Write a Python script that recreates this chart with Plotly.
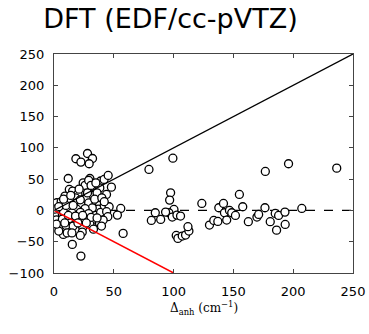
import plotly.graph_objects as go

x_vals = [
    # upper outliers
    28, 32.2, 18.3, 22.5, 29.4, 11.9, 79.4,
    # upper cluster
    30, 24.4, 39, 41.9, 45.3, 48, 12.8, 15.6, 9.2, 24, 32.8, 38.3, 43.9, 30, 27, 33, 36, 20, 26, 29, 18,
    # middle cluster
    2.2, 6, 13.3, 19, 23, 29, 35, 38, 37, 32, 26, 19, 12, 6, 2, 1, 4, 8, 15, 22, 29, 35, 39, 42, 46.1,
    55.8, 53, 44, 45, 0.5, 0.5,
    # lower cluster
    2, 7, 13, 19, 26, 33, 38, 41.1, 39.7, 5, 10, 16, 24, 30, 7.8, 11, 15, 23.6, 22, 4, 2, 57.8, 15.3,
    22.5, 33,
    # extra density
    10, 16, 22, 28, 34, 40, 12, 18, 24, 31, 8, 4, 27, 20, 9, 36, 42, 14, 21, 31, 35,
    # right side
    99.4, 97.5, 96.7, 100.3, 96.1, 98.9, 102.8, 105.8, 93.3, 84.7, 81.4, 89.2, 102.2, 103.6, 107.2,
    110, 112.8, 112, 123.6, 130, 133.6, 137, 137.8, 141.7, 142.5, 144.4, 146.7, 148.6, 151.7, 155,
    157.8, 162.5, 169.7, 171.1, 176.7, 176.4, 180.8, 185, 187.8, 186.1, 193.1, 193.3, 196.1, 207.2,
    236.4,
]
y_vals = [
    91, 83, 82.6, 77.2, 74.6, 51, 65.5,
    51, 44, 47, 49.5, 55.9, 37.2, 33.5, 31, 23, 30, 33, 36, 25.5, 22, 19, 24, 28, 26, 40, 48, 20,
    12.3, 14, 14, 12, 9, 12, 14, 8, 2, 4, 3, 2, 4, 2, 2, -4, -3, -3, -4, -3, -5, -8, -3, 8, 5.9,
    3.2, -7.5, -2, -10, -8, 2,
    -15, -14, -13, -14, -15, -14, -20, -15.4, -25, -25, -24, -25, -27, -22, -38.3, -36, -36, -34.7,
    -40, -33, -22, -36.7, -54.3, -73, -30,
    8, 8, 17, 28, 18, 20, -8, -9, -8, -11, 18, 6, -20, -20, -20, -12, 14, 24, 34, 40, 44,
    83.5, 28.2, 16.5, 1.6, -3.7, -10.6, -7.5, -9, -2.7, -3.7, -16, -14.4, -40, -44.7, -41,
    -39.4, -33, -26, 11.2, -23.4, -16, -17.6, 4.3, 11.2, -3.7, -15.4, 0, -3.7, -8, 25.5,
    5.9, -18, -10.6, -6.4, 62.3, 4.3, -18, -4.8, -8, -31.5, -2.7, -22.4, 74.6, 3.2,
    67.6,
]

# Reference lines
diag_x = [0, 250]
diag_y = [0, 250]
red_x = [0, 100]
red_y = [0, -100]
zero_x = [0, 250]
zero_y = [0, 0]

x_ticks = [0, 50, 100, 150, 200, 250]
y_ticks = [-100, -50, 0, 50, 100, 150, 200, 250]

fig = go.Figure()
fig.add_trace(go.Scatter(x=zero_x, y=zero_y, mode="lines",
                         line=dict(color="black", width=1.3, dash="dash"), showlegend=False))
fig.add_trace(go.Scatter(x=x_vals, y=y_vals, mode="markers",
                         marker=dict(symbol="circle", size=8, color="white",
                                     line=dict(color="black", width=1.3)),
                         showlegend=False))
fig.add_trace(go.Scatter(x=diag_x, y=diag_y, mode="lines",
                         line=dict(color="black", width=1.3), showlegend=False))
fig.add_trace(go.Scatter(x=red_x, y=red_y, mode="lines",
                         line=dict(color="red", width=1.5), showlegend=False))

fig.update_layout(
    width=369, height=334,
    margin=dict(l=54, r=16, t=54, b=61),
    paper_bgcolor="white", plot_bgcolor="white",
    font=dict(family="DejaVu Sans", color="black", size=13),
    title=dict(text="DFT (EDF/cc-pVTZ)", x=0.462, xanchor="center", y=0.945, yanchor="middle",
               xref="container", yref="container",
               font=dict(family="DejaVu Sans", size=27, color="black")),
    annotations=[dict(text="Δ<sub>anh</sub> (cm<sup>−1</sup>)", xref="paper", yref="paper",
                      x=0.5, y=0, xanchor="center", yanchor="middle", yshift=-35,
                      showarrow=False, font=dict(family="DejaVu Serif", size=12, color="black"))],
)
fig.update_xaxes(range=[0, 250], tickvals=x_ticks, ticks="inside", ticklen=4,
                 showline=True, linecolor="#444", linewidth=1.2, mirror="ticks",
                 showgrid=False, zeroline=False, ticklabelstandoff=6, automargin=False)
fig.update_yaxes(range=[-100, 250], tickvals=y_ticks, ticks="inside", ticklen=4,
                 showline=True, linecolor="#444", linewidth=1.2, mirror="ticks",
                 showgrid=False, zeroline=False, ticklabelstandoff=6, automargin=False)

fig.write_html("out.html", config={"displayModeBar": False},
               post_script="document.body.style.margin='0';")
